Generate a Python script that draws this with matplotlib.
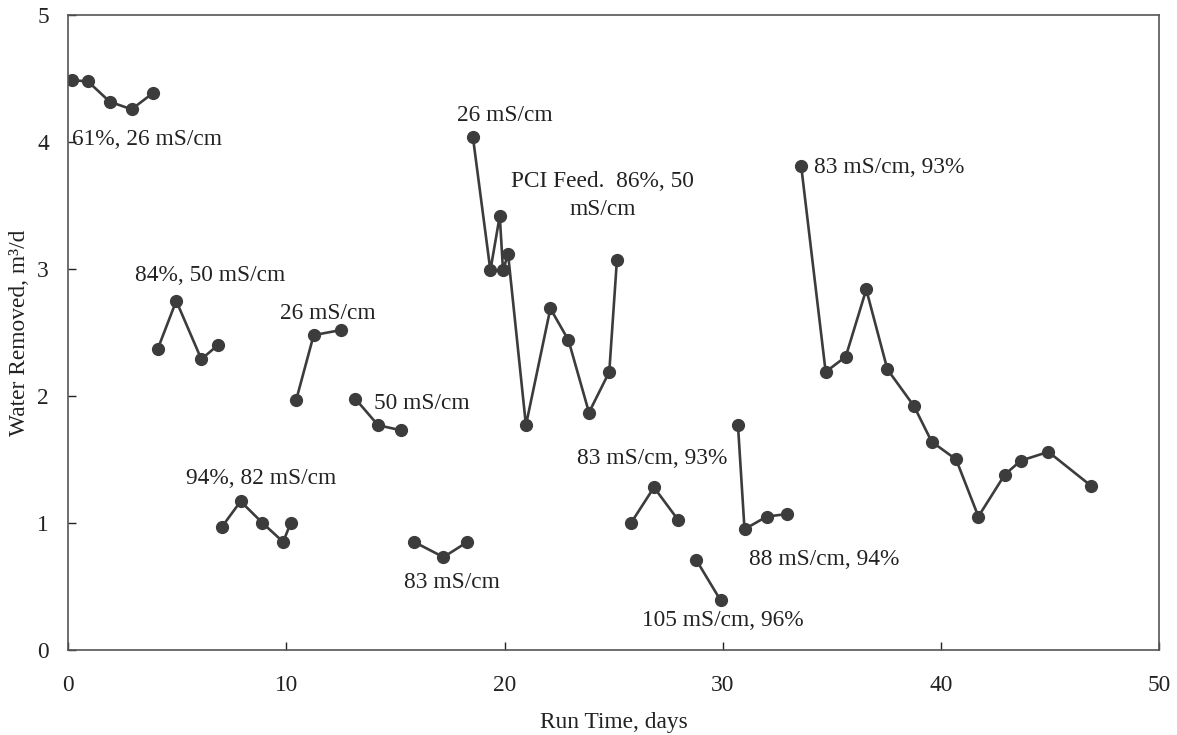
import matplotlib
matplotlib.use("Agg")
import matplotlib.pyplot as plt

# Data: separate runs (segments)
seg1_x = [0.15, 0.9, 1.9, 2.9, 3.9]
seg1_y = [4.49, 4.48, 4.32, 4.26, 4.39]

seg2_x = [4.1, 4.95, 6.1, 6.85]
seg2_y = [2.37, 2.75, 2.29, 2.40]

seg3_x = [10.45, 11.25, 12.5]
seg3_y = [1.97, 2.48, 2.52]

seg4_x = [13.15, 14.2, 15.25]
seg4_y = [1.98, 1.77, 1.73]

seg5_x = [7.05, 7.9, 8.9, 9.85, 10.2]
seg5_y = [0.97, 1.17, 1.00, 0.85, 1.00]

seg6_x = [15.85, 17.2, 18.3]
seg6_y = [0.85, 0.73, 0.85]

seg7_x = [18.55, 19.35, 19.78, 19.93, 20.16, 20.98, 22.1, 22.93, 23.87, 24.8, 25.15]
seg7_y = [4.04, 2.99, 3.42, 2.99, 3.12, 1.77, 2.69, 2.44, 1.87, 2.19, 3.07]

seg8_x = [25.8, 26.85, 27.97]
seg8_y = [1.00, 1.28, 1.02]

seg9_x = [28.78, 29.9]
seg9_y = [0.71, 0.39]

seg10_x = [30.7, 31.0, 32.02, 32.97]
seg10_y = [1.77, 0.95, 1.05, 1.07]

seg11_x = [33.6, 34.72, 35.64, 36.58, 37.55, 38.77, 39.58, 40.7, 41.72, 42.93, 43.66, 44.93, 46.9]
seg11_y = [3.81, 2.19, 2.31, 2.84, 2.21, 1.92, 1.64, 1.50, 1.05, 1.38, 1.49, 1.56, 1.29]

segments = [(seg1_x, seg1_y), (seg2_x, seg2_y), (seg3_x, seg3_y), (seg4_x, seg4_y),
            (seg5_x, seg5_y), (seg6_x, seg6_y), (seg7_x, seg7_y), (seg8_x, seg8_y),
            (seg9_x, seg9_y), (seg10_x, seg10_y), (seg11_x, seg11_y)]

labels = [
    ("61%, 26 mS/cm", 0.15, 4.02, "left"),
    ("84%, 50 mS/cm", 6.5, 2.95, "center"),
    ("26 mS/cm", 11.9, 2.65, "center"),
    ("50 mS/cm", 14.0, 1.94, "left"),
    ("94%, 82 mS/cm", 8.85, 1.35, "center"),
    ("83 mS/cm", 17.6, 0.53, "center"),
    ("26 mS/cm", 20.0, 4.21, "center"),
    ("PCI Feed.  86%, 50", 24.5, 3.69, "center"),
    ("mS/cm", 24.5, 3.47, "center"),
    ("83 mS/cm, 93%", 34.2, 3.80, "left"),
    ("83 mS/cm, 93%", 26.75, 1.51, "center"),
    ("105 mS/cm, 96%", 30.0, 0.23, "center"),
    ("88 mS/cm, 94%", 34.65, 0.71, "center"),
]

xticks = [0, 10, 20, 30, 40, 50]
yticks = [0, 1, 2, 3, 4, 5]

plt.rcParams['font.family'] = ['Liberation Serif', 'DejaVu Serif']

fig = plt.figure(figsize=(11.77, 7.35), dpi=100)
ax = fig.add_axes([0.058, 0.116, 0.9267, 0.863])

col = '#3c3c3c'
for xs, ys in segments:
    ax.plot(xs, ys, '-o', color=col, lw=1.9, markersize=8.5, markerfacecolor=col,
            markeredgecolor=col)

for txt, x, y, ha in labels:
    ax.text(x, y, txt, fontsize=16.8, ha=ha, va='center', color='#222222')

ax.set_xlim(0, 50)
ax.set_ylim(0, 5)
ax.set_xticks(xticks)
ax.set_yticks(yticks)
ax.tick_params(axis='x', direction='in', length=6, width=1, pad=18, labelsize=16.8, colors='#222222')
ax.tick_params(axis='y', direction='in', length=6, width=1, pad=14, labelsize=16.8, colors='#222222')
for sp in ax.spines.values():
    sp.set_color('#555555')
    sp.set_linewidth(1.2)

ax.set_xlabel('Run Time, days', fontsize=16.8, color='#222222', labelpad=12)
ax.set_ylabel('Water Removed, m³/d', fontsize=16.8, color='#222222', labelpad=5)

fig.savefig('out.png', dpi=100)
